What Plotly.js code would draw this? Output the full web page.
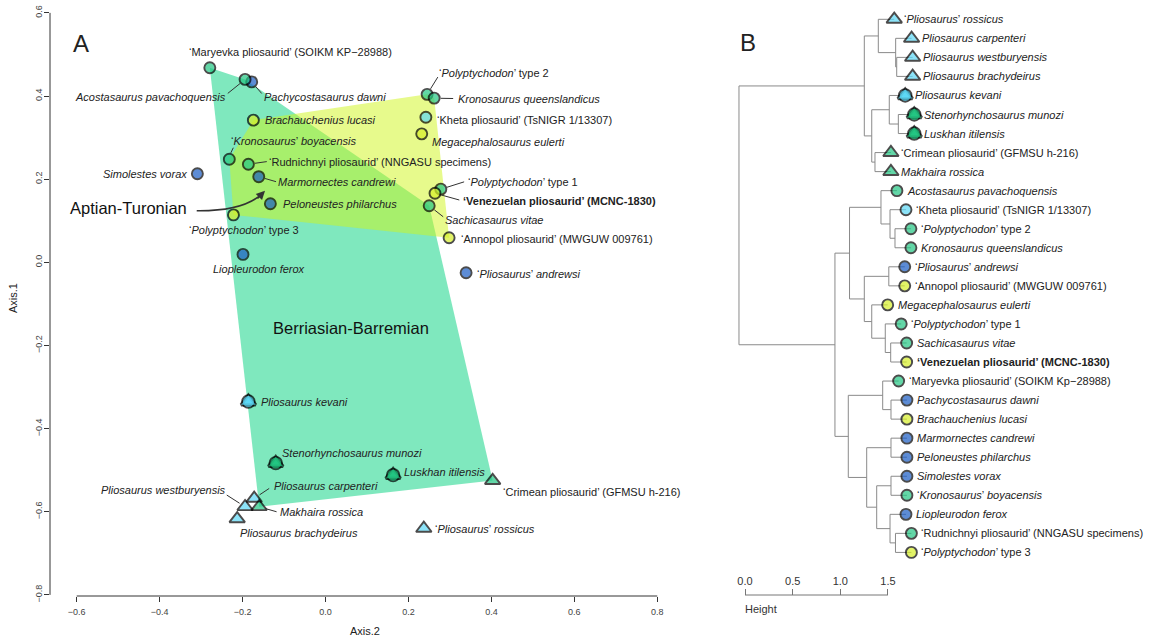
<!DOCTYPE html>
<html><head><meta charset="utf-8">
<script src="https://cdn.plot.ly/plotly-3.0.1.min.js"></script>
<style>html,body{margin:0;padding:0;background:#fff}#chart{width:1159px;height:637px}</style>
</head><body><div id="chart"></div>
<script>
// ---------------- DATA ----------------
const taxa = [
  "‘Maryevka pliosaurid’ (SOIKM KP−28988)",      // 0
  "<i>Pachycostasaurus dawni</i>",               // 1
  "<i>Acostasaurus pavachoquensis</i>",          // 2
  "<i>Brachauchenius lucasi</i>",                // 3
  "‘<i>Kronosaurus</i>’ <i>boyacensis</i>",      // 4
  "‘Rudnichnyi pliosaurid’ (NNGASU specimens)",  // 5
  "<i>Simolestes vorax</i>",                     // 6
  "<i>Marmornectes candrewi</i>",                // 7
  "<i>Peloneustes philarchus</i>",               // 8
  "‘<i>Polyptychodon</i>’ type 3",               // 9
  "<i>Liopleurodon ferox</i>",                   // 10
  "‘<i>Polyptychodon</i>’ type 2",               // 11
  "<i>Kronosaurus queenslandicus</i>",           // 12
  "‘Kheta pliosaurid’ (TsNIGR 1/13307)",         // 13
  "<i>Megacephalosaurus eulerti</i>",            // 14
  "‘<i>Polyptychodon</i>’ type 1",               // 15
  "<b>‘Venezuelan pliosaurid’ (MCNC-1830)</b>",  // 16
  "<i>Sachicasaurus vitae</i>",                  // 17
  "‘Annopol pliosaurid’ (MWGUW 009761)",         // 18
  "‘<i>Pliosaurus</i>’ <i>andrewsi</i>",         // 19
  "<i>Pliosaurus kevani</i>",                    // 20
  "<i>Stenorhynchosaurus munozi</i>",            // 21
  "<i>Pliosaurus westburyensis</i>",             // 22
  "<i>Pliosaurus carpenteri</i>",                // 23
  "<i>Makhaira rossica</i>",                     // 24
  "<i>Pliosaurus brachydeirus</i>",              // 25
  "<i>Luskhan itilensis</i>",                    // 26
  "‘Crimean pliosaurid’ (GFMSU h-216)",          // 27
  "‘<i>Pliosaurus</i>’ <i>rossicus</i>"          // 28
];
const axis2 = [-0.279,-0.178,-0.194,-0.174,-0.232,-0.186,-0.309,-0.161,-0.133,-0.222,-0.199,
                0.245,0.262,0.242,0.232,0.278,0.264,0.250,0.298,0.339,
               -0.186,-0.120,-0.194,-0.172,-0.160,-0.213,0.163,0.403,0.237];
const axis1 = [0.468,0.434,0.440,0.342,0.248,0.236,0.213,0.206,0.141,0.114,0.019,
               0.404,0.395,0.349,0.309,0.176,0.166,0.136,0.059,-0.025,
              -0.335,-0.483,-0.588,-0.568,-0.588,-0.617,-0.512,-0.525,-0.640];
const colourGroup = ["green","blue","green","yellow","green","green","blue","blue","blue","yellow","blue",
                     "green","green","cyan","yellow","green","yellow","green","yellow","blue",
                     "cyan","green","cyan","cyan","green","cyan","green","green","cyan"];
const shapeGroup = ["circle","circle","circle","circle","circle","circle","circle","circle","circle","circle","circle",
                    "circle","circle","circle","circle","circle","circle","circle","circle","circle",
                    "drop","drop","triangle","triangle","triangle","triangle","drop","triangle","triangle"];
// convex-hull groups (taxa indices)
const berriasianBarremian = [0,2,17,27,24,21,26,5];
const aptianTuronian = [3,11,12,18,9,4,14,15,16];
// dendrogram: leaf order (taxa indices), merges (neg = leaf position, pos = earlier merge), merge heights
const treeLeaves = [28,23,22,25,20,21,26,27,24,2,13,11,12,19,18,14,15,17,16,0,1,3,7,8,6,4,10,5,9];
const treeMerges = [[-3,-4],[-6,-7],[-2,1],[-28,-29],[-12,-13],[-18,-19],[-21,-22],[-23,-24],[-25,-26],
  [-11,5],[-27,4],[-5,2],[-14,-15],[-17,6],[-20,7],[-10,10],[-1,3],[9,11],[-8,-9],[-16,14],[12,19],
  [8,18],[17,21],[13,20],[16,24],[15,22],[25,26],[23,27]];
const treeHeights = [0.087,0.070,0.098,0.100,0.105,0.150,0.147,0.147,0.147,0.157,0.157,0.165,0.170,
  0.207,0.234,0.252,0.280,0.297,0.315,0.349,0.349,0.402,0.427,0.427,0.582,0.595,0.735,1.742];
const xTicks = [-0.6,-0.4,-0.2,0.0,0.2,0.4,0.6,0.8];
const yTicks = [-0.8,-0.6,-0.4,-0.2,0.0,0.2,0.4,0.6];
const heightTicks = [0,0.5,1.0,1.5];

// ---------------- STYLE ----------------
const FONT = 'Liberation Sans, Arial, Helvetica, sans-serif';
const palette = {blue:'#1a5cc4', green:'#22c682', cyan:'#5cd8f6', yellow:'#d6ef28'};
const CIRC = 11, TRI = 13.5, OUT = 1.9;
// label placement in panel A: [dx, dy (screen px, down +), anchor, leader [sx,sy,ex,ey] or null]
const placeA = [
  [-21.7,-16,'left',null],
  [11.6,15,'left',[4.2,4.9,10,11.6]],
  [-18,17.4,'right',[-5,4.1,-17.3,14]],
  [11,0,'left',null],
  [0.7,-18.3,'left',[1.5,-6.3,4,-11.5]],
  [19.4,-2,'left',[6.4,-0.9,18.4,-2.6]],
  [-9,0,'right',null],
  [18,5,'left',[6.2,1.8,17.3,5]],
  [11.4,0,'left',null],
  [11,15,'center',null],
  [16,15,'center',null],
  [11,-21,'left',[3.4,-5.5,10.7,-17.3]],
  [23,0.7,'left',[6.5,0.2,19,0.4]],
  [10.3,2.7,'left',null],
  [9.3,8.3,'left',null],
  [25.7,-7.3,'left',[6.2,-1.9,23.3,-7.3]],
  [26.7,7.4,'left',[6.3,1.7,24.3,6.7]],
  [14.7,14.3,'left',[5.1,4,14,11]],
  [10.7,1,'left',null],
  [10,1.3,'left',null],
  [11.7,0,'left',null],
  [5.3,-10.6,'left',null],
  [-18.3,-16.7,'right',[-5.5,-3.5,-18.3,-11.7]],
  [18.4,-12.6,'left',[5.4,-3.6,15,-10]],
  [20,5.6,'left',[6.2,1.8,17.4,5]],
  [2,14.3,'left',null],
  [10,-3.3,'left',null],
  [9,11.6,'left',null],
  [10,0.4,'left',null]
];

// ---------------- BUILD ----------------
function hull(idx){
  const pts = idx.map(i=>[axis2[i],axis1[i]]).sort((a,b)=>a[0]-b[0]||a[1]-b[1]);
  const cross=(o,a,b)=>(a[0]-o[0])*(b[1]-o[1])-(a[1]-o[1])*(b[0]-o[0]);
  const lo=[],up=[];
  for(const p of pts){while(lo.length>=2&&cross(lo[lo.length-2],lo[lo.length-1],p)<=0)lo.pop();lo.push(p);}
  for(const p of pts.slice().reverse()){while(up.length>=2&&cross(up[up.length-2],up[up.length-1],p)<=0)up.pop();up.push(p);}
  lo.pop();up.pop();const h=lo.concat(up);h.push(h[0]);return h;
}
function hullTrace(idx, fill){
  const h=hull(idx);
  return {type:'scatter',mode:'lines',x:h.map(p=>p[0]),y:h.map(p=>p[1]),fill:'toself',fillcolor:fill,
    line:{width:0,color:'rgba(0,0,0,0)'},hoverinfo:'skip',showlegend:false};
}
function markerTraces(xs, ys, idxs, xa, ya){
  const out=[];
  const norm=[],drop=[];
  idxs.forEach((t,j)=>{(shapeGroup[t]==='drop'?drop:norm).push(j);});
  out.push({type:'scatter',mode:'markers',xaxis:xa,yaxis:ya,hoverinfo:'skip',showlegend:false,
    x:norm.map(j=>xs[j]),y:norm.map(j=>ys[j]),
    marker:{symbol:norm.map(j=>shapeGroup[idxs[j]]==='triangle'?'triangle-up':'circle'),
      size:norm.map(j=>shapeGroup[idxs[j]]==='triangle'?TRI:CIRC),
      color:norm.map(j=>palette[colourGroup[idxs[j]]]),
      line:{color:'#000',width:OUT}}});
  const dx=[],dy=[],ds=[],dz=[],dc=[];
  drop.forEach(j=>{dx.push(xs[j],xs[j]);dy.push(ys[j],ys[j]);ds.push('circle','triangle-up');dz.push(CIRC,TRI-1);
    const c=palette[colourGroup[idxs[j]]];dc.push(c,c);});
  [1.8*OUT,0].forEach(w=>out.push({type:'scatter',mode:'markers',xaxis:xa,yaxis:ya,hoverinfo:'skip',showlegend:false,
    x:dx,y:dy,marker:{symbol:ds,size:dz,color:dc,line:{color:'#000',width:w}}}));
  return out;
}

// dendrogram geometry
const hang = 0.1*(Math.max(...treeHeights)-Math.min(...treeHeights));
const nodeY=[], parentH=new Array(treeLeaves.length);
const segX=[], segY=[];
treeMerges.forEach((m,k)=>{
  const h=treeHeights[k];
  const ch=m.map(c=>c<0?{x:h-hang,y:-c,leaf:-c}:{x:treeHeights[c-1],y:nodeY[c-1]});
  ch.forEach(c=>{ if(c.leaf) parentH[c.leaf-1]=h; segX.push(h,c.x,null); segY.push(c.y,c.y,null); });
  segX.push(h,h,null); segY.push(ch[0].y,ch[1].y,null);
  nodeY[k]=(ch[0].y+ch[1].y)/2;
});
const leafX = parentH.map(h=>h-hang);
const leafY = treeLeaves.map((_,i)=>i+1);

const traces = [
  hullTrace(berriasianBarremian,'rgba(0,209,125,0.5)'),
  hullTrace(aptianTuronian,'rgba(207,245,25,0.5)'),
  ...markerTraces(axis2, axis1, taxa.map((_,i)=>i), 'x', 'y'),
  {type:'scatter',mode:'lines',x:segX,y:segY,xaxis:'x2',yaxis:'y2',line:{color:'#8a8a8a',width:1},hoverinfo:'skip',showlegend:false},
  ...markerTraces(leafX, leafY, treeLeaves, 'x2', 'y2'),
  {type:'scatter',mode:'lines',x:[heightTicks[0],heightTicks[heightTicks.length-1]],y:[null,null],xaxis:'x3',yaxis:'y2',hoverinfo:'skip',showlegend:false}
];

const lab = {family:FONT,size:11,color:'#222'};
const annotations = [];
taxa.forEach((t,i)=>{
  const p=placeA[i];
  annotations.push({xref:'x',yref:'y',x:axis2[i],y:axis1[i],text:t,showarrow:false,
    xanchor:p[2],yanchor:'middle',xshift:p[0],yshift:-p[1],font:lab,borderpad:0});
});
treeLeaves.forEach((t,i)=>{
  const txt = t===0 ? taxa[0].replace('KP','Kp') : taxa[t];
  annotations.push({xref:'x2',yref:'y2',x:leafX[i],y:leafY[i],text:txt,showarrow:false,
    xanchor:'left',yanchor:'middle',xshift:9,font:lab,borderpad:0});
});
annotations.push(
  {xref:'paper',yref:'paper',x:71/1159,y:1-28/637,text:'A',showarrow:false,font:{family:FONT,size:24,color:'#222'}},
  {xref:'paper',yref:'paper',x:747.5/1159,y:1-26.7/637,text:'B',showarrow:false,font:{family:FONT,size:24,color:'#222'}},
  {xref:'x',yref:'y',x:-0.4756,y:0.1299,text:'Aptian-Turonian',showarrow:false,font:{family:FONT,size:16.5,color:'#111'}},
  {xref:'x',yref:'y',x:0.0622,y:-0.1573,text:'Berriasian-Barremian',showarrow:false,font:{family:FONT,size:16.5,color:'#111'}},
  {xref:'x',yref:'y',x:-0.1459,y:0.1722,ax:-9,ay:9.3,axref:'pixel',ayref:'pixel',text:'',showarrow:true,
    arrowhead:2,arrowsize:1.1,arrowwidth:1.6,arrowcolor:'#333'},
  {xref:'x3',yref:'paper',x:-0.02,y:1-609/637,text:'Height',showarrow:false,xanchor:'left',yanchor:'middle',font:{family:FONT,size:11,color:'#333'}}
);

const shapes = [
  {type:'line',xref:'x',yref:'y domain',x0:xTicks[0],x1:xTicks[xTicks.length-1],y0:0,y1:0,line:{color:'#333',width:1}},
  {type:'line',xref:'x domain',yref:'y',x0:0,x1:0,y0:yTicks[0],y1:yTicks[yTicks.length-1],line:{color:'#333',width:1}},
  {type:'line',xref:'x3',yref:'paper',x0:heightTicks[0],x1:heightTicks[heightTicks.length-1],y0:1-595/637,y1:1-595/637,line:{color:'#777',width:1}},
  {type:'path',xref:'x',yref:'y',path:'M -0.3106,0.1241 Q -0.1937,0.1227 -0.1500,0.1680',line:{color:'#333',width:1.6}}
];
taxa.forEach((t,i)=>{
  const L=placeA[i][3]; if(!L) return;
  shapes.push({type:'line',xref:'x',yref:'y',xsizemode:'pixel',ysizemode:'pixel',xanchor:axis2[i],yanchor:axis1[i],
    x0:L[0],x1:L[2],y0:-L[1],y1:-L[3],line:{color:'#333',width:1}});
});

const axCommon = {showgrid:false,zeroline:false,showline:false,ticks:'outside',ticklen:5,tickwidth:1,tickcolor:'#333',
  tickformat:'.1f',tickfont:{family:FONT,size:9,color:'#444'}};
const layout = {
  width:1159,height:637,margin:{l:0,r:0,t:0,b:0},
  paper_bgcolor:'#fff',plot_bgcolor:'rgba(0,0,0,0)',showlegend:false,
  font:{family:FONT,size:11,color:'#222'},
  xaxis:Object.assign({},axCommon,{domain:[50/1159,680/1159],range:[-0.6644,0.8548],tickvals:xTicks,anchor:'y',
    ticklabelstandoff:2,title:{text:'Axis.2',font:{family:FONT,size:11,color:'#222'},standoff:11}}),
  yaxis:Object.assign({},axCommon,{domain:[1-596/637,1],range:[-0.8027,0.6310],tickvals:yTicks,anchor:'x',tickangle:-90,
    ticklabelstandoff:-2,title:{text:'Axis.1',font:{family:FONT,size:11,color:'#222'},standoff:14}}),
  xaxis2:{domain:[720/1159,1],range:[1.9412,-2.6653],visible:false,anchor:'y2'},
  yaxis2:{domain:[1-570/637,1],range:[29.924,-0.0137],visible:false,anchor:'x2'},
  xaxis3:{domain:[720/1159,1],range:[-0.2623,4.3442],anchor:'free',position:1-595/637,side:'top',
    ticks:'outside',ticklen:6,tickwidth:1,tickcolor:'#777',tickvals:heightTicks,tickformat:'.1f',
    showline:false,showgrid:false,zeroline:false,tickfont:{family:FONT,size:11,color:'#333'}},
  shapes:shapes,annotations:annotations
};
Plotly.newPlot('chart',traces,layout,{staticPlot:true,displayModeBar:false});
</script></body></html>
